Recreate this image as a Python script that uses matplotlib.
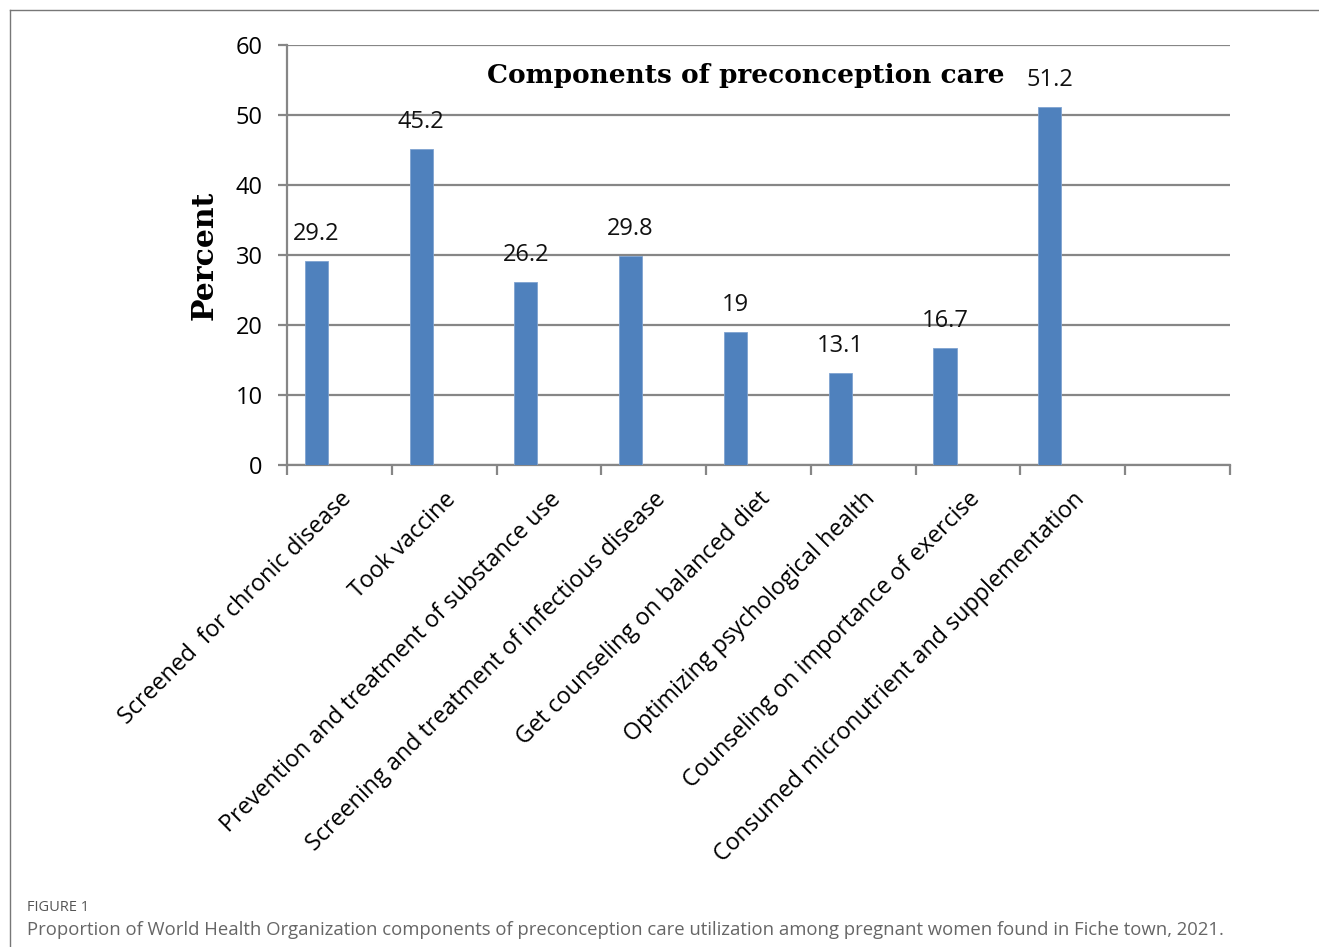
import numpy as np
import matplotlib.pyplot as plt
from matplotlib.lines import Line2D

categories = [
    "Screened  for chronic disease",
    "Took vaccine",
    "Prevention and treatment of substance use",
    "Screening and treatment of infectious disease",
    "Get counseling on balanced diet",
    "Optimizing psychological health",
    "Counseling on importance of exercise",
    "Consumed micronutrient and supplementation",
    "",
]
percent = [29.2, 45.2, 26.2, 29.8, 19, 13.1, 16.7, 51.2]
value_labels = ["29.2", "45.2", "26.2", "29.8", "19", "13.1", "16.7", "51.2"]

W, H = 1319, 947
fig = plt.figure(figsize=(W / 100, H / 100), dpi=100)
ax = fig.add_axes([287 / W, 1 - 465 / H, (1230 - 287) / W, (465 - 45) / H])

grey = "#868686"
bar_w = 0.22
x = np.arange(len(percent))
ax.bar(x - bar_w, percent, width=bar_w, color="#4F81BD", edgecolor="#7FA3D1",
       linewidth=0.6, zorder=3)

for xi, v, lab in zip(x, percent, value_labels):
    ax.annotate(lab, (xi - bar_w, v), xytext=(0, 19.5), textcoords="offset points",
                ha="center", va="center", fontsize=17, family="Open Sans", color="#111")

ax.set_xlim(-0.5, len(categories) - 0.5)
ax.set_ylim(0, 60)
ax.set_yticks(range(0, 61, 10))
ax.yaxis.grid(True, color=grey, linewidth=1.6, zorder=0)
ax.set_axisbelow(True)

ax.set_xticks(np.arange(len(categories) + 1) - 0.5, minor=True)
ax.set_xticks(x.tolist() + [8])
ax.set_xticklabels(categories, rotation=45, ha="right", rotation_mode="anchor",
                   fontsize=16.8, family="Open Sans")
ax.tick_params(axis="x", which="major", length=0, pad=16)
ax.tick_params(axis="x", which="minor", length=7.5, width=1.6, color=grey)
ax.tick_params(axis="y", length=6.5, width=1.6, color=grey, pad=11,
               labelsize=17)
for t in ax.get_yticklabels():
    t.set_family("Open Sans")

for s in ["top", "right"]:
    ax.spines[s].set_visible(False)
for s in ["left", "bottom"]:
    ax.spines[s].set_color(grey)
    ax.spines[s].set_linewidth(1.6)

ax.set_ylabel("Percent", family="DejaVu Serif", fontweight="bold", fontsize=21.5,
              labelpad=12)
ax.text(0.486, 0.928, "Components of preconception care", transform=ax.transAxes,
        ha="center", va="center", family="DejaVu Serif", fontweight="bold",
        fontsize=19)

# frame around the figure panel
fig.add_artist(Line2D([10 / W, 1.0], [1 - 10.5 / H] * 2, color="#777",
                      linewidth=1.0, transform=fig.transFigure))
fig.add_artist(Line2D([10 / W] * 2, [1 - 10.5 / H, 0.0], color="#777",
                      linewidth=1.0, transform=fig.transFigure))

fig.text(27 / W, 1 - 907 / H, "FIGURE 1", fontsize=10.5, family="Open Sans",
         color="#555", va="center")
fig.text(27 / W, 1 - 930 / H,
         "Proportion of World Health Organization components of preconception care "
         "utilization among pregnant women found in Fiche town, 2021.",
         fontsize=13.3, family="Open Sans", color="#666", va="center")

fig.savefig("out.png", dpi=100)
